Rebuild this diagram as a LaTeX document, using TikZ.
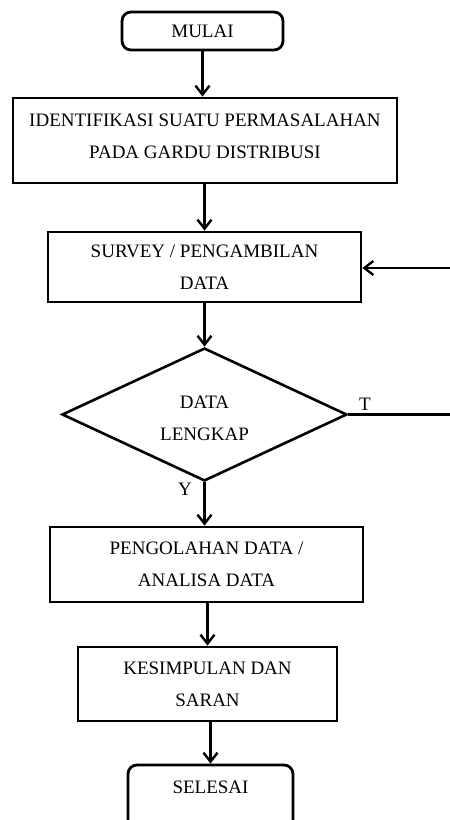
\documentclass[tikz,border=0pt]{standalone}
\usepackage{fontspec}
\setmainfont{Liberation Serif}
\usetikzlibrary{shapes.geometric,arrows.meta}
\begin{document}
\begin{tikzpicture}[x=1pt,y=-1pt,
  box/.style={draw,line width=2.8pt,rectangle,inner sep=0pt,align=center,font=\fontsize{19}{32}\selectfont},
  term/.style={box,rounded corners=9pt},
  dec/.style={draw,line width=2.6pt,diamond,inner sep=0pt,align=center,font=\fontsize{19}{32}\selectfont},
  lbl/.style={inner sep=0pt,font=\fontsize{19}{22}\selectfont},
  conn/.style={line width=2.6pt,-{Straight Barb[length=9pt,width=14pt,line width=2.4pt]}},
  plain/.style={line width=2.6pt}]
\clip (0,0) rectangle (450,820);
\useasboundingbox (0,0) rectangle (450,820);
\node[term,minimum width=161pt,minimum height=38pt] (mulai) at (202.5,31) {MULAI};
\node[box,minimum width=384pt,minimum height=85pt] (ident) at (205,140.5) {IDENTIFIKASI SUATU PERMASALAHAN\\PADA GARDU DISTRIBUSI\\[-24pt]};
\node[box,minimum width=313pt,minimum height=70pt] (survey) at (204.5,267) {SURVEY / PENGAMBILAN\\DATA};
\node[dec,minimum width=285pt,minimum height=133pt,shape aspect=2.15] (data) at (204.5,414.5) {\\[-12pt]DATA\\LENGKAP};
\node[box,minimum width=313pt,minimum height=75pt] (olah) at (206.5,564.5) {PENGOLAHAN DATA /\\ANALISA DATA};
\node[box,minimum width=259pt,minimum height=74pt] (simp) at (207.5,684) {KESIMPULAN DAN\\SARAN};
\node[term,minimum width=165pt,minimum height=80pt] (selesai) at (210.5,805) {};
\node[lbl] (seltxt) at (210.5,787) {SELESAI};
\node[lbl] (tlbl) at (365,404) {T};
\node[lbl] (ylbl) at (185,489) {Y};
\coordinate (tend) at (452,414.5);
\coordinate (rin) at (452,268);
\draw[conn] (mulai.south) -- (mulai.south |- ident.north);
\draw[conn] (ident.south -| survey.north) -- (survey.north);
\draw[conn] (survey.south) -- (data.north);
\draw[plain] (data.east) -- (tend);
\draw[conn] (rin) -- (survey.east |- rin);
\draw[conn] (data.south) -- (data.south |- olah.north);
\draw[conn] (olah.south -| simp.north) -- (simp.north);
\draw[conn] (simp.south -| selesai.north) -- (selesai.north);
\end{tikzpicture}
\end{document}
